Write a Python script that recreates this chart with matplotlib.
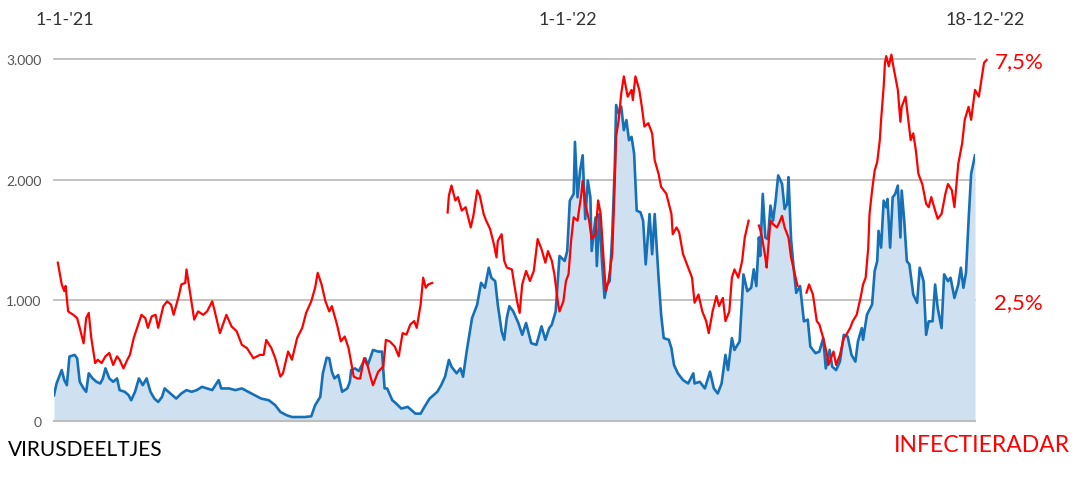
import numpy as np
import matplotlib
matplotlib.use('Agg')
from matplotlib import pyplot as plt

plt.rcParams['font.family'] = ['Lato', 'DejaVu Sans']

# virusdeeltjes (rioolwater), x = dagen sinds 1-1-'21
blue_days = [0, 2, 6, 8, 10, 12, 16, 18, 20, 23, 25, 27, 30, 33, 36, 38, 40, 43, 46, 49,
             51, 55, 58, 60, 63, 66, 69, 72, 75, 78, 81, 84, 86, 89, 92, 95, 99, 103, 107, 111,
             115, 119, 123, 128, 130, 136, 141, 146, 151, 156, 161, 167, 172, 176, 181, 185, 190, 195, 200, 203,
             207, 209, 212, 214, 216, 218, 221, 224, 228, 230, 231, 234, 237, 242, 244, 248, 252, 255, 257, 259,
             263, 266, 270, 275, 281, 285, 288, 292, 298, 301, 304, 307, 309, 313, 316, 318, 321, 325, 329, 332,
             335, 338, 340, 343, 345, 348, 350, 352, 354, 357, 361, 364, 367, 371, 375, 379, 382, 385, 387, 390,
             393, 397, 399, 401, 404, 405, 407, 409, 411, 413, 415, 417, 418, 421, 422, 424, 426, 428, 430, 432,
             434, 436, 437, 439, 441, 443, 445, 447, 449, 451, 453, 456, 458, 460, 463, 465, 467, 469, 470, 472,
             474, 478, 480, 482, 485, 489, 493, 497, 498, 502, 506, 510, 513, 516, 519, 522, 524, 527, 529, 533,
             536, 539, 542, 544, 546, 548, 549, 551, 553, 555, 557, 559, 561, 563, 566, 568, 570, 571, 573, 575,
             577, 580, 583, 586, 588, 592, 595, 598, 600, 603, 605, 608, 611, 614, 617, 620, 623, 625, 628, 629,
             632, 636, 638, 640, 641, 643, 645, 647, 648, 650, 652, 654, 656, 658, 659, 661, 663, 665, 668, 671,
             673, 676, 678, 680, 683, 685, 687, 690, 692, 695, 697, 700, 703, 705, 707, 709, 711, 713, 716]
blue_values = [214, 311, 422, 339, 297, 534, 548, 520, 325, 270, 242, 395, 353, 325, 311, 353, 436, 353, 325, 353,
               256, 242, 214, 172, 242, 353, 297, 353, 242, 186, 158, 200, 270, 242, 214, 186, 228, 256, 242, 256,
               283, 270, 256, 339, 270, 270, 256, 270, 242, 214, 186, 172, 131, 75, 47, 33, 33, 33, 39, 131,
               200, 395, 525, 520, 409, 353, 381, 242, 270, 325, 422, 436, 414, 520, 464, 589, 575, 575, 270, 270,
               172, 145, 103, 117, 61, 61, 117, 186, 242, 297, 367, 506, 450, 395, 436, 367, 589, 853, 965, 1145,
               1104, 1270, 1187, 1159, 965, 742, 673, 853, 951, 909, 812, 714, 812, 645, 631, 784, 673, 770, 798, 909,
               1368, 1326, 1409, 1826, 1882, 2313, 1854, 2077, 2202, 1674, 1993, 1854, 1409, 1687, 1284, 1715, 1326, 1020, 1131, 1159,
               1548, 2132, 2619, 2549, 2605, 2410, 2494, 2327, 2355, 2216, 1743, 1729, 1660, 1298, 1715, 1382, 1715, 1368, 1187, 881,
               687, 673, 603, 464, 395, 339, 311, 395, 311, 325, 270, 409, 270, 228, 311, 548, 422, 687, 589, 659,
               1215, 1076, 1104, 1257, 1118, 1521, 1368, 1882, 1521, 1507, 1785, 1660, 1826, 2035, 1965, 1757, 1799, 2021, 1507, 1270,
               1062, 1118, 826, 840, 617, 562, 575, 687, 436, 589, 450, 422, 492, 714, 700, 548, 492, 659, 770, 673,
               881, 965, 1243, 1326, 1576, 1437, 1826, 1771, 1840, 1437, 1854, 1882, 1951, 1521, 1910, 1660, 1326, 1298, 1048, 979,
               1270, 1159, 714, 826, 826, 1131, 937, 770, 1215, 1159, 1187, 1020, 1131, 1270, 1104, 1229, 1660, 2049, 2202]

# infectieradar (% positief), nan = geen data
nan = float('nan')
red_days = [3, 6, 8, 9, 11, 15, 18, 20, 23, 25, 27, 29, 32, 34, 37, 40, 43, 46, 49, 51,
            54, 57, 59, 62, 65, 68, 71, 73, 76, 79, 81, 85, 88, 91, 93, 97, 99, 102, 103, 106,
            109, 112, 116, 119, 123, 125, 129, 134, 138, 142, 146, 150, 155, 160, 163, 165, 169, 172, 176, 178,
            182, 185, 189, 193, 196, 200, 203, 205, 208, 211, 214, 216, 220, 223, 226, 229, 233, 236, 238, 241,
            244, 246, 248, 252, 256, 258, 261, 265, 268, 271, 274, 277, 280, 282, 285, 287, 289, 291, 294, 300,
            306, 307, 309, 312, 314, 317, 320, 324, 326, 329, 331, 334, 336, 339, 342, 344, 345, 348, 350, 352,
            356, 358, 360, 362, 364, 367, 370, 373, 376, 379, 382, 384, 387, 389, 392, 393, 396, 398, 400, 402,
            404, 407, 410, 411, 413, 416, 418, 421, 423, 425, 427, 429, 431, 434, 436, 437, 439, 441, 443, 446,
            449, 450, 452, 455, 457, 459, 462, 465, 467, 470, 472, 476, 478, 480, 481, 484, 486, 489, 491, 493,
            496, 498, 501, 504, 507, 509, 512, 515, 517, 520, 522, 525, 527, 529, 532, 535, 537, 540, 544,
            548, 550, 553, 554, 557, 559, 562, 564, 566, 568, 571, 573, 576, 578, 582,
            585, 587, 590, 593, 595, 598, 601, 602, 606, 608, 611, 614, 616, 619, 621, 624, 627, 629, 631, 633,
            634, 636, 638, 640, 642, 643, 645, 646, 647, 649, 651, 652, 654, 656, 658, 659, 662, 664, 666, 668,
            670, 672, 675, 678, 680, 682, 685, 687, 690, 693, 695, 698, 700, 703, 706, 708, 711, 713, 716, 719,
            721, 723, 725]
red_pct = [3.28, 2.83, 2.69, 2.80, 2.27, 2.20, 2.13, 1.93, 1.61, 2.13, 2.24, 1.72, 1.20, 1.27, 1.20, 1.34, 1.41, 1.16, 1.34, 1.27,
           1.09, 1.27, 1.37, 1.72, 1.96, 2.20, 2.13, 1.93, 2.17, 2.20, 1.93, 2.38, 2.48, 2.41, 2.20, 2.59, 2.83, 2.86, 3.14, 2.62,
           2.10, 2.27, 2.20, 2.27, 2.48, 2.27, 1.82, 2.20, 1.96, 1.86, 1.58, 1.51, 1.30, 1.37, 1.37, 1.68, 1.51, 1.30, 0.92, 0.99,
           1.44, 1.27, 1.72, 1.93, 2.24, 2.48, 2.76, 3.07, 2.83, 2.48, 2.27, 2.38, 2.00, 1.65, 1.75, 1.51, 0.92, 0.88, 0.88, 1.30,
           1.13, 0.92, 0.74, 1.02, 1.13, 1.68, 1.65, 1.54, 1.34, 1.82, 1.79, 2.00, 2.07, 1.93, 2.41, 2.97, 2.76, 2.83, 2.86, nan,
           4.32, 4.67, 4.88, 4.57, 4.64, 4.36, 4.43, 4.01, 4.25, 4.78, 4.67, 4.29, 4.15, 3.98, 3.66, 3.39, 3.73, 3.87, 3.32, 3.18,
           3.14, 2.80, 2.48, 2.24, 2.83, 3.11, 2.90, 3.11, 3.77, 3.56, 3.28, 3.52, 3.32, 3.04, 2.41, 2.27, 2.48, 2.90, 3.04, 3.73,
           4.22, 4.15, 4.71, 4.98, 4.50, 4.15, 3.77, 3.87, 4.57, 4.29, 3.46, 2.69, 2.90, 3.46, 4.98, 5.89, 6.24, 6.79, 7.14, 6.72,
           6.86, 6.65, 7.14, 6.86, 6.51, 6.10, 6.17, 5.96, 5.40, 5.12, 4.85, 4.71, 4.50, 4.29, 3.87, 4.01, 3.91, 3.46, 3.32, 3.18,
           2.97, 2.45, 2.62, 2.27, 2.07, 1.82, 2.27, 2.59, 2.38, 2.55, 2.07, 2.27, 2.97, 3.14, 2.97, 3.32, 3.80, 4.15, nan,
           4.05, 3.87, 3.39, 3.18, 4.15, 4.08, 4.01, 4.12, 4.25, 4.01, 3.80, 3.39, 3.04, 2.80, nan,
           2.66, 2.83, 2.62, 2.07, 2.00, 1.72, 1.37, 1.16, 1.44, 1.16, 1.37, 1.72, 1.79, 1.93, 2.07, 2.20, 2.55, 2.83, 2.97, 3.59,
           4.29, 4.78, 5.19, 5.37, 5.82, 6.24, 6.93, 7.42, 7.56, 7.35, 7.59, 7.42, 7.14, 6.86, 6.20, 6.51, 6.72, 6.27, 5.82, 5.96,
           5.61, 5.12, 4.91, 4.50, 4.43, 4.64, 4.36, 4.19, 4.29, 4.71, 4.91, 4.78, 4.43, 5.33, 5.75, 6.24, 6.51, 6.24, 6.86, 6.72,
           7.07, 7.42, 7.48]

left_ticks = [0, 1000, 2000, 3000]
left_labels = ['0', '1.000', '2.000', '3.000']
right_ticks = [2.5, 7.5]
right_labels = ['2,5%', '7,5%']
date_labels = ["1-1-'21", "1-1-'22", "18-12-'22"]

blue_line = '#1670b8'
blue_fill = '#cfe1f1'
red = '#ff0000'

fig = plt.figure(figsize=(10.88, 4.85), dpi=100)
ax = fig.add_axes([54 / 1088, 63 / 485, 921 / 1088, 362 / 485])
ax.set_xlim(0, 716)
ax.set_ylim(0, 3000)

for v in left_ticks[1:]:
    ax.axhline(v, color='#bdbdbd', linewidth=1.3, zorder=0, clip_on=False)
ax.axhline(0, color='#bdbdbd', linewidth=1.5, zorder=3, clip_on=False)

ax.fill_between(blue_days, blue_values, 0, color=blue_fill, linewidth=0, zorder=1)
ax.plot(blue_days, blue_values, color=blue_line, linewidth=1.9, zorder=2)

ax.set_yticks(left_ticks)
ax.set_yticklabels(left_labels)
ax.tick_params(axis='y', length=0, pad=9, labelsize=10, labelcolor='#555555')
ax.set_xticks([])
for s in ax.spines.values():
    s.set_visible(False)

ax2 = ax.twinx()
ax2.set_ylim(0, 7.5)
ax2.plot(red_days, red_pct, color=red, linewidth=1.6, zorder=4, clip_on=False)
ax2.set_yticks(right_ticks)
ax2.set_yticklabels(right_labels)
ax2.tick_params(axis='y', length=0, pad=14, labelsize=16, labelcolor=red)
for s in ax2.spines.values():
    s.set_visible(False)

fig.text(65 / 1088, 1 - 20 / 485, date_labels[0], ha='center', va='center', fontsize=13, color='#333333')
fig.text(568 / 1088, 1 - 20 / 485, date_labels[1], ha='center', va='center', fontsize=13, color='#333333')
fig.text(985 / 1088, 1 - 20 / 485, date_labels[2], ha='center', va='center', fontsize=13, color='#333333')
fig.text(8 / 1088, 1 - 450 / 485, 'VIRUSDEELTJES', ha='left', va='center', fontsize=15, color='black')
fig.text(1070 / 1088, 1 - 446 / 485, 'INFECTIERADAR', ha='right', va='center', fontsize=16.5, color=red)

plt.savefig('out.png', dpi=100)
plt.close()
